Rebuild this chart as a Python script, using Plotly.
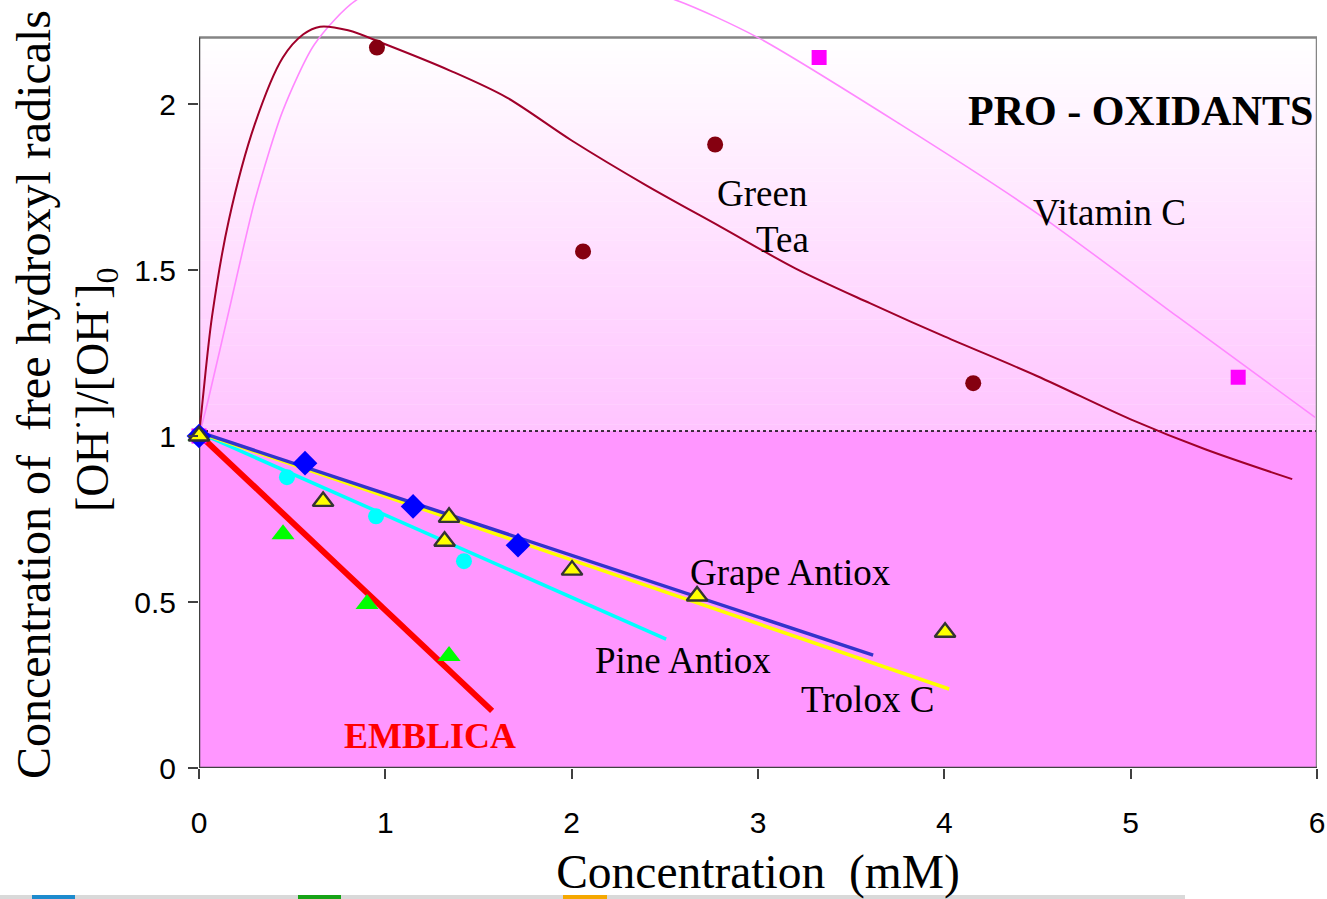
import plotly.graph_objects as go

# ---------------- data ----------------
# Green Tea (pro-oxidant) measured points and smoothed trend curve
gt_x = [0, 0.955, 2.061, 2.770, 4.155]
gt_y = [1.0, 2.170, 1.556, 1.878, 1.159]
gt_curve_x = [0, 0.02, 0.07, 0.16, 0.3, 0.45, 0.56, 0.65, 0.8, 1.0, 1.35,
              1.65, 2.0, 2.4, 2.8, 3.2, 3.6, 4.0, 4.5, 5.0, 5.4, 5.867]
gt_curve_y = [1.0, 1.11, 1.36, 1.65, 1.94, 2.14, 2.21, 2.233, 2.222, 2.18, 2.10,
              2.02, 1.89, 1.755, 1.63, 1.505, 1.40, 1.30, 1.18, 1.05, 0.96, 0.87]

# Vitamin C (pro-oxidant)
vc_x = [0, 3.328, 5.577]
vc_y = [1.0, 2.140, 1.177]
vc_curve_x = [0, 0.05, 0.17, 0.3, 0.45, 0.62, 0.85, 1.6, 2.55, 3.0, 3.76, 4.5, 5.25, 5.99]
vc_curve_y = [1.0, 1.11, 1.40, 1.71, 1.98, 2.18, 2.315, 2.46, 2.315, 2.20, 1.94, 1.67, 1.36, 1.056]

# Grape Antiox
grape_x = [0, 0.569, 1.149, 1.712]
grape_y = [1.0, 0.918, 0.788, 0.671]
grape_fit_x = [0, 3.618]
grape_fit_y = [1.012, 0.340]

# Pine Antiox
pine_x = [0, 0.472, 0.950, 1.422]
pine_y = [1.0, 0.876, 0.758, 0.623]
pine_fit_x = [0, 2.507]
pine_fit_y = [1.01, 0.388]

# Trolox C
trolox_x = [0, 0.666, 1.342, 1.318, 2.002, 2.673, 4.004]
trolox_y = [1.0, 0.803, 0.755, 0.683, 0.596, 0.518, 0.409]
trolox_fit_x = [0, 4.026]
trolox_fit_y = [1.01, 0.238]

# Emblica
emblica_x = [0, 0.451, 0.902, 1.342]
emblica_y = [1.0, 0.704, 0.494, 0.337]
emblica_fit_x = [0, 1.573]
emblica_fit_y = [1.005, 0.172]

x_ticks = [0, 1, 2, 3, 4, 5, 6]
y_ticks = [0, 0.5, 1, 1.5, 2]

SERIF = "Liberation Serif, Times New Roman, serif"
SANS = "Liberation Sans, Arial, sans-serif"

fig = go.Figure()

# ---- fitted / smoothed lines ----
fig.add_trace(go.Scatter(x=vc_curve_x, y=vc_curve_y, mode="lines", line_shape="spline",
                         line=dict(color="#FF88FF", width=1.6, smoothing=0.7),
                         name="Vitamin C trend", hoverinfo="skip"))
fig.add_trace(go.Scatter(x=gt_curve_x, y=gt_curve_y, mode="lines", line_shape="spline",
                         line=dict(color="#A0002A", width=2, smoothing=0.9),
                         name="Green Tea trend", hoverinfo="skip"))
fig.add_trace(go.Scatter(x=emblica_fit_x, y=emblica_fit_y, mode="lines",
                         line=dict(color="#FF0000", width=6), name="Emblica trend"))
fig.add_trace(go.Scatter(x=pine_fit_x, y=pine_fit_y, mode="lines",
                         line=dict(color="#00FFFF", width=3.5), name="Pine trend"))
fig.add_trace(go.Scatter(x=trolox_fit_x, y=trolox_fit_y, mode="lines",
                         line=dict(color="#FFFF00", width=3.5), name="Trolox trend"))
fig.add_trace(go.Scatter(x=grape_fit_x, y=grape_fit_y, mode="lines",
                         line=dict(color="#3333CC", width=3.5), name="Grape trend"))

# ---- measured points ----
fig.add_trace(go.Scatter(x=gt_x, y=gt_y, mode="markers", cliponaxis=False, name="Green Tea",
                         marker=dict(symbol="circle", size=16, color="#850010")))
fig.add_trace(go.Scatter(x=vc_x, y=vc_y, mode="markers", cliponaxis=False, name="Vitamin C",
                         marker=dict(symbol="square", size=15, color="#FF00FF")))
fig.add_trace(go.Scatter(x=emblica_x, y=emblica_y, mode="markers", cliponaxis=False, name="Emblica",
                         marker=dict(symbol="triangle-up", size=20, color="#00FF00")))
fig.add_trace(go.Scatter(x=pine_x, y=pine_y, mode="markers", cliponaxis=False, name="Pine Antiox",
                         marker=dict(symbol="circle", size=16, color="#00FFFF")))
fig.add_trace(go.Scatter(x=grape_x, y=grape_y, mode="markers", cliponaxis=False, name="Grape Antiox",
                         marker=dict(symbol="diamond", size=19, color="#0000FF")))
fig.add_trace(go.Scatter(x=trolox_x, y=trolox_y, mode="markers", cliponaxis=False, name="Trolox C",
                         marker=dict(symbol="triangle-up", size=18, color="#FFFF00",
                                     line=dict(color="#333333", width=2.4))))

# ---------------- background regions ----------------
shapes = []
y_split = 1.015
y_top = 2.2
n_bands = 60
top_rgb = (255, 255, 255)
bot_rgb = (255, 196, 255)
for i in range(n_bands):
    t = (i + 0.5) / n_bands
    r = round(bot_rgb[0] + (top_rgb[0] - bot_rgb[0]) * t)
    g = round(bot_rgb[1] + (top_rgb[1] - bot_rgb[1]) * t)
    b = round(bot_rgb[2] + (top_rgb[2] - bot_rgb[2]) * t)
    y0 = y_split + (y_top - y_split) * i / n_bands
    y1 = y_split + (y_top - y_split) * (i + 1) / n_bands
    shapes.append(dict(type="rect", xref="x", yref="y", x0=0, x1=6.015, y0=y0, y1=y1 + 0.001,
                       fillcolor=f"rgb({r},{g},{b})", line=dict(width=0), layer="below"))
shapes.append(dict(type="rect", xref="x", yref="y", x0=0, x1=6.015, y0=0, y1=y_split,
                   fillcolor="#FF96FF", line=dict(width=0), layer="below"))
shapes.append(dict(type="line", xref="x", yref="y", x0=0, x1=6, y0=y_split, y1=y_split,
                   line=dict(color="#000000", width=1.6, dash="dot"), layer="below"))
# box
shapes.append(dict(type="line", xref="x", yref="y", x0=0, x1=6, y0=y_top, y1=y_top,
                   line=dict(color="#858585", width=2.5), layer="below"))
shapes.append(dict(type="line", xref="x", yref="y", x0=6, x1=6, y0=0, y1=y_top,
                   line=dict(color="#858585", width=2.5), layer="below"))
shapes.append(dict(type="line", xref="x", yref="y", x0=0, x1=0, y0=0, y1=y_top,
                   line=dict(color="#404040", width=2.5), layer="below"))
shapes.append(dict(type="line", xref="x", yref="y", x0=0, x1=6, y0=0, y1=0,
                   line=dict(color="#404040", width=2.5), layer="below"))

# bottom strip (screen artefact in the reference)
def px_to_paper_x(px):
    return (px - 199) / 1118.0

def px_to_paper_y(py):
    return (768 - py) / 768.0

shapes.append(dict(type="rect", xref="paper", yref="paper",
                   x0=px_to_paper_x(0), x1=px_to_paper_x(1185),
                   y0=px_to_paper_y(900), y1=px_to_paper_y(895),
                   fillcolor="#D9D9D9", line=dict(width=0)))
for (a, b_, col) in [(32, 75, "#1E8BCD"), (298, 341, "#17A317"), (563, 607, "#F5A800")]:
    shapes.append(dict(type="rect", xref="paper", yref="paper",
                       x0=px_to_paper_x(a), x1=px_to_paper_x(b_),
                       y0=px_to_paper_y(900), y1=px_to_paper_y(895),
                       fillcolor=col, line=dict(width=0)))

# ---------------- annotations ----------------
ann = []
def label(text, x, y, size=37, xanchor="center", color="black", bold=False):
    t = f"<b>{text}</b>" if bold else text
    ann.append(dict(text=t, x=x, y=y, xref="x", yref="y", showarrow=False,
                    xanchor=xanchor, yanchor="middle",
                    font=dict(family=SERIF, size=size, color=color)))

label("PRO - OXIDANTS", 5.989, 1.979, size=42, xanchor="right", bold=True)
label("ANTI - OXIDANTS", 6.016, 0.105, size=42, xanchor="right", bold=True)
label("EMBLICA", 1.242, 0.096, size=36, color="#FF0000", bold=True)
label("Green", 3.274, 1.729, xanchor="right")
label("Tea", 3.284, 1.593, xanchor="right")
label("Vitamin C", 4.889, 1.672)
label("Grape Antiox", 3.172, 0.590)
label("Pine Antiox", 2.595, 0.325)
label("Trolox C", 3.588, 0.205)

# y-axis title (two lines)
ann.append(dict(text="Concentration of\u00a0 free hydroxyl radicals", textangle=-90,
                xref="paper", yref="paper", x=px_to_paper_x(33), y=px_to_paper_y(395),
                xanchor="center", yanchor="middle", showarrow=False,
                font=dict(family=SERIF, size=48, color="black")))
ann.append(dict(text="[OH<sup>·</sup>]/[OH<sup>·</sup>]<sub>0</sub>", textangle=-90,
                xref="paper", yref="paper", x=px_to_paper_x(92), y=px_to_paper_y(390),
                xanchor="center", yanchor="middle", showarrow=False,
                font=dict(family=SERIF, size=46, color="black")))

fig.update_layout(
    width=1327, height=899,
    margin=dict(l=199, r=10, t=0, b=131),
    paper_bgcolor="white", plot_bgcolor="rgba(0,0,0,0)",
    showlegend=False,
    shapes=shapes, annotations=ann,
    xaxis=dict(range=[0, 6], tickvals=x_ticks, ticktext=[str(v) for v in x_ticks],
               showgrid=False, zeroline=False, showline=False,
               ticks="outside", ticklen=10, tickwidth=2, tickcolor="#404040",
               ticklabelstandoff=18,
               tickfont=dict(family=SANS, size=30, color="black"),
               title=dict(text="Concentration\u00a0 (mM)", standoff=18,
                          font=dict(family=SERIF, size=47.5, color="black"))),
    yaxis=dict(range=[0, 768 / 332.0], tickvals=y_ticks,
               ticktext=["0", "0.5", "1", "1.5", "2"],
               showgrid=False, zeroline=False, showline=False,
               ticks="outside", ticklen=10, tickwidth=2, tickcolor="#404040",
               ticklabelstandoff=6,
               tickfont=dict(family=SANS, size=30, color="black")),
)

fig.write_html("out.html", config={"displayModeBar": False},
               post_script="document.body.style.margin='0px';document.body.style.overflow='hidden';")
